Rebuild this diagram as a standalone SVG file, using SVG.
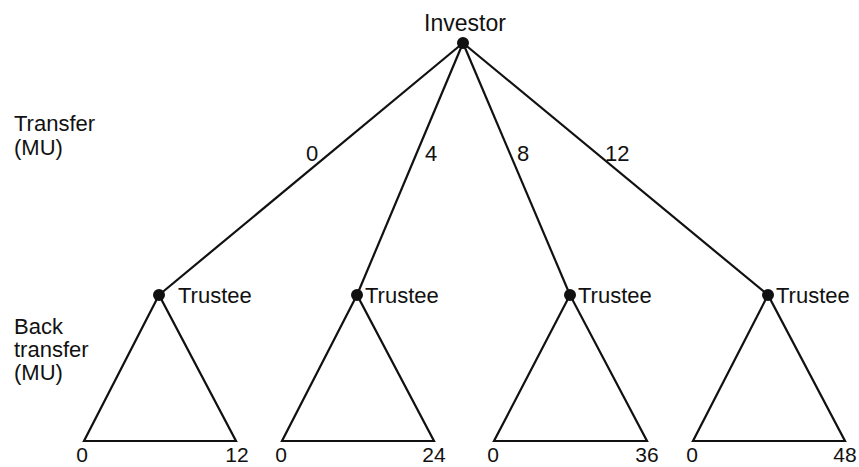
<svg xmlns="http://www.w3.org/2000/svg" width="859" height="467" viewBox="0 0 859 467">
<style>
text{font-family:"Liberation Sans",Arial,sans-serif;font-size:22px;fill:#111}
.b{font-size:21px}
.e{stroke:#111;stroke-width:2.2;fill:none;stroke-linejoin:miter}
.d{fill:#111}
</style>
<rect width="859" height="467" fill="#fff"/>
<g id="connectors">
<line class="e" x1="463" y1="43" x2="159" y2="295"/>
<line class="e" x1="463" y1="43" x2="357" y2="295"/>
<line class="e" x1="463" y1="43" x2="570" y2="295"/>
<line class="e" x1="463" y1="43" x2="768" y2="295"/>
<text x="312" y="161" text-anchor="middle">0</text>
<text x="431" y="161" text-anchor="middle">4</text>
<text x="523" y="161" text-anchor="middle">8</text>
<text x="605" y="161">12</text>
</g>
<g id="labels">
<text x="14" y="131">Transfer</text>
<text x="14" y="155">(MU)</text>
<text x="14" y="334">Back</text>
<text x="14" y="357">transfer</text>
<text x="14" y="380">(MU)</text>
</g>
<g id="investor">
<circle class="d" cx="463" cy="43" r="6"/>
<text x="465" y="31" text-anchor="middle" style="font-size:23px">Investor</text>
</g>
<g id="trustee1">
<polygon class="e" points="159,295 84,441 236,441"/>
<circle class="d" cx="159" cy="295" r="6"/>
<text x="178" y="303">Trustee</text>
<text class="b" x="82" y="462" text-anchor="middle">0</text>
<text class="b" x="237" y="462" text-anchor="middle">12</text>
</g>
<g id="trustee2">
<polygon class="e" points="357,295 282,441 434,441"/>
<circle class="d" cx="357" cy="295" r="6"/>
<text x="365" y="303">Trustee</text>
<text class="b" x="281" y="462" text-anchor="middle">0</text>
<text class="b" x="434" y="462" text-anchor="middle">24</text>
</g>
<g id="trustee3">
<polygon class="e" points="570,295 494,441 647,441"/>
<circle class="d" cx="570" cy="295" r="6"/>
<text x="578" y="303">Trustee</text>
<text class="b" x="493" y="462" text-anchor="middle">0</text>
<text class="b" x="647" y="462" text-anchor="middle">36</text>
</g>
<g id="trustee4">
<polygon class="e" points="768,295 693,441 845,441"/>
<circle class="d" cx="768" cy="295" r="6"/>
<text x="776" y="303">Trustee</text>
<text class="b" x="692" y="462" text-anchor="middle">0</text>
<text class="b" x="845" y="462" text-anchor="middle">48</text>
</g>
</svg>
